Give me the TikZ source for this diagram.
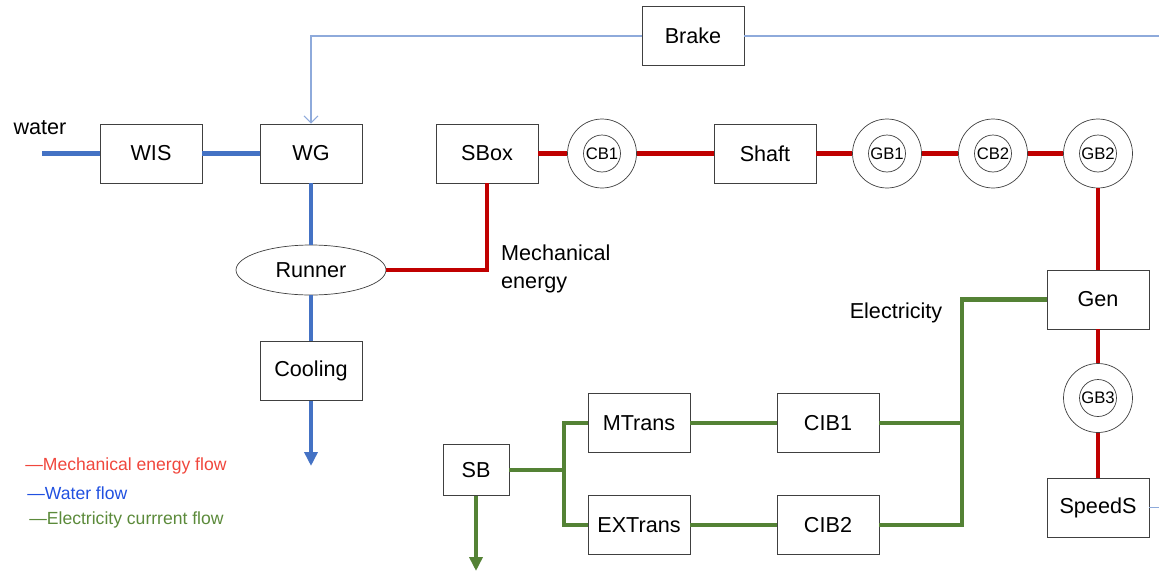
\documentclass[tikz,border=0pt]{standalone}
\usepackage{fontspec}
\setmainfont{Liberation Sans}
\usetikzlibrary{arrows.meta,shapes.geometric}
\definecolor{hpMech}{HTML}{C00000}
\definecolor{hpWater}{HTML}{4472C4}
\definecolor{hpElec}{HTML}{548235}
\definecolor{hpCtrl}{HTML}{8EAADB}
\definecolor{hpLegRed}{HTML}{F0463C}
\definecolor{hpLegBlue}{HTML}{2050E0}
\definecolor{hpLegGreen}{HTML}{5B8A3A}
\tikzset{
  >={Triangle[length=2.8mm,width=2.6mm]},
  blk/.style={draw=black!75, fill=white, minimum width=2.04cm, minimum height=1.18cm,
              inner sep=0pt, font=\fontsize{12.3}{15}\selectfont},
  gear/.style={circle, draw=black!75, fill=white, minimum size=1.38cm, inner sep=0pt},
  gearin/.style={circle, draw=black!75, minimum size=0.74cm, inner sep=0pt,
              font=\fontsize{9.5}{11}\selectfont},
  mech/.style={draw=hpMech, line width=2.3pt},
  water/.style={draw=hpWater, line width=2.3pt},
  elec/.style={draw=hpElec, line width=2.3pt},
  ctrl/.style={draw=hpCtrl, line width=0.6pt},
  lbl/.style={font=\fontsize{12.3}{15.9}\selectfont},
  leg/.style={anchor=west, inner sep=0pt, font=\fontsize{10}{12}\selectfont},
}

\begin{document}
\begin{tikzpicture}[x=0.02cm,y=-0.02cm]
  \useasboundingbox (0,0) rectangle (1159,572);
  % water side
  \node[blk] (wis) at (151,153.5) {WIS};
  \node[blk] (wg) at (311,153.5) {WG};
  \node[ellipse, draw=black!75, fill=white, minimum width=3.0cm, minimum height=1.0cm,
        inner sep=0pt, font=\fontsize{12.3}{15}\selectfont] (runner) at (311,270) {Runner};
  \node[blk] (cool) at (311,371) {Cooling};
  \node[lbl] (water) at (40,128) {water};
  \coordinate (win) at (42,153.5);
  \coordinate (cout) at (311,466);
  \draw[water] (win) -- (wis);
  \draw[water] (wis) -- (wg);
  \draw[water] (wg) -- (runner);
  \draw[water] (runner) -- (cool);
  \draw[water,->] (cool) -- (cout);
  % brake
  \node[blk] (brake) at (693,36) {Brake};
  \coordinate (bR) at (1159,36);
  \draw[ctrl,-{Straight Barb[length=1.4mm,width=2.8mm]}] (brake) -| (wg);
  \draw[ctrl] (brake) -- (bR);
  % shaft line
  \node[blk] (sbox) at (487,153.5) {SBox};
  \node[blk] (shaft) at (765,153.5) {Shaft};
  \foreach \n/\t/\x/\y in {cb1/CB1/602/153.5, gb1/GB1/887/153.5, cb2/CB2/993/153.5,
                           gb2/GB2/1098/153.5, gb3/GB3/1098/398}{
    \node[gear] (\n) at (\x,\y) {};
    \node[gearin] (\n t) at (\n) {\t};
  }
  \node[blk] (gen) at (1098,299.5) {Gen};
  \node[blk] (speeds) at (1098,507.5) {SpeedS};
  \coordinate (sR) at (1159,507.5);
  \draw[ctrl] (speeds) -- (sR);
  \draw[mech] (runner) -| (sbox);
  \draw[mech] (sbox) -- (cb1);
  \draw[mech] (cb1) -- (shaft);
  \draw[mech] (shaft) -- (gb1);
  \draw[mech] (gb1) -- (cb2);
  \draw[mech] (cb2) -- (gb2);
  \draw[mech] (gb2) -- (gen);
  \draw[mech] (gen) -- (gb3);
  \draw[mech] (gb3) -- (speeds);
  \node[lbl, anchor=west, align=left] (mlbl) at (495,269) {Mechanical\\energy};
  % electricity
  \node[blk, minimum width=1.32cm, minimum height=1.02cm] (sb) at (476,470) {SB};
  \node[blk] (mtrans) at (639,423) {MTrans};
  \node[blk] (extrans) at (639,525) {EXTrans};
  \node[blk] (cib1) at (828,423) {CIB1};
  \node[blk] (cib2) at (828,525) {CIB2};
  \node[lbl] (elbl) at (896,313) {Electricity};
  \coordinate (sj) at (564,470);
  \coordinate (ej) at (962,299.5);
  \coordinate (e1) at (962,423);
  \coordinate (sbout) at (476,571);
  \draw[elec] (sb) -- (sj);
  \draw[elec] (sj) |- (mtrans);
  \draw[elec] (sj) |- (extrans);
  \draw[elec] (mtrans) -- (cib1);
  \draw[elec] (extrans) -- (cib2);
  \draw[elec] (cib1) -- (e1);
  \draw[elec] (cib2) -| (ej) -- (gen);
  \draw[elec,->] (sb) -- (sbout);
  % legend
  \node[leg, text=hpLegRed] (lgm) at (25,466) {—Mechanical energy flow};
  \node[leg, text=hpLegBlue] (lgw) at (27,493) {—Water flow};
  \node[leg, text=hpLegGreen] (lge) at (29,520) {—Electricity currrent flow};
\end{tikzpicture}
\end{document}
